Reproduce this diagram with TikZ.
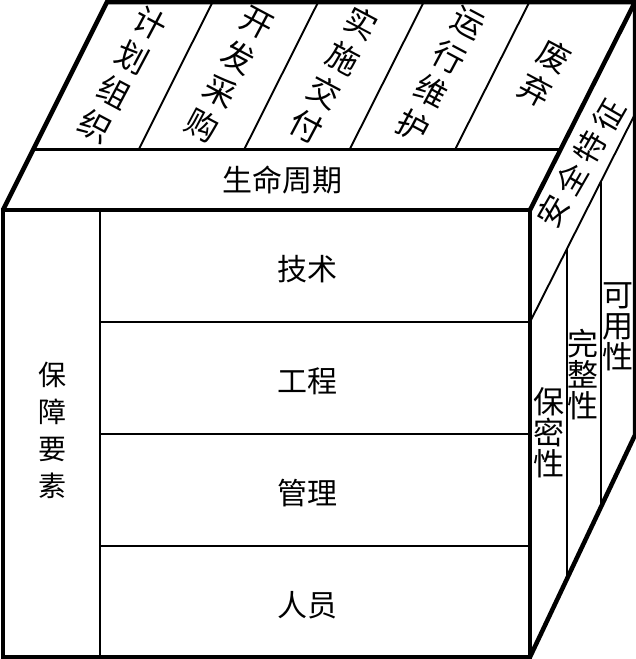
\documentclass[tikz,border=0pt]{standalone}
\usepackage{fontspec}
\newfontfamily\cjk{Noto Sans CJK SC}
\usetikzlibrary{calc}

\begin{document}
\begin{tikzpicture}[x=1pt, y=-1pt,
    outer/.style={line width=4.5pt},
    inner/.style={line width=1.9pt},
    word/.style={inner sep=0pt, font=\cjk\fontsize{30}{30}\selectfont},
    leftlabel/.style={inner sep=0pt, align=center, font=\cjk\fontsize{28}{37}\selectfont},
    toplabel/.style={inner sep=0pt, align=center, rotate=-28, font=\cjk\fontsize{32}{39}\selectfont},
    sidelabel/.style={inner sep=0pt, align=center, font=\cjk\fontsize{31}{31}\selectfont},
    bandlabel/.style={inner sep=0pt, rotate=60, font=\cjk\fontsize{31}{31}\selectfont}]
       \useasboundingbox (0,0) rectangle (636,659);

       % corners of the cube
       \coordinate (ftl) at (3,210);
       \coordinate (ftr) at (530,210);
       \coordinate (fbr) at (530,657);
       \coordinate (fbl) at (3,657);
       \coordinate (btl) at (107,2);
       \coordinate (btr) at (635,2);
       \coordinate (bbr) at (635,435);

       % top face: lifecycle band and phases
       \coordinate (ll) at ($(ftl)!0.293!(btl)$);
       \coordinate (lr) at ($(ftr)!0.293!(btr)$);
       \foreach \i in {1,...,4}
           \draw[inner] ($(ll)!\i/5!(lr)$) -- ($(btl)!\i/5!(btr)$);

       % front face: rows
       \draw[inner] (100,210) -- (100,657);
       \foreach \y in {322,434,546}
           \draw[inner] (100,\y) -- (530,\y);

       % right face: security band and columns
       \coordinate (sl) at (530,322);
       \coordinate (sr) at ($(sl)+(btr)-(ftr)$);
       \draw[inner] (sl) -- (sr);
       \foreach \f in {0.35,0.68}
           \draw[inner] ($(sl)!\f!(sr)$) -- ($(fbr)!\f!(bbr)$);

       % outline
       \draw[line width=3pt] (ll) -- (lr);
       \draw[outer] (ftl) -- (ftr) -- (fbr) -- (fbl) -- cycle;
       \draw[outer] (ftl) -- (btl) -- (btr) -- (ftr);
       \draw[outer] (btr) -- (bbr) -- (fbr);

       % labels
       \node[word] (life) at (282,180) {生命周期};
       \node[word] (tech) at (307,269) {技术};
       \node[word] (eng) at (307,381) {工程};
       \node[word] (mgmt) at (307,493) {管理};
       \node[word] (staff) at (307,605) {人员};
       \node[leftlabel] (guard) at (52,430) {保\\障\\要\\素};

       \node[toplabel] (plan) at (123,75) {计\\划\\组\\织};
       \node[toplabel] (dev) at (229,75) {开\\发\\采\\购};
       \node[toplabel] (impl) at (334,75) {实\\施\\交\\付};
       \node[toplabel] (ops) at (440,75) {运\\行\\维\\护};
       \node[toplabel] (drop) at (545,73) {废\\弃};

       \node[bandlabel] (secur) at (581,163) {安\hspace{6pt}全\hspace{6pt}特\hspace{6pt}征};
       \node[sidelabel] (conf) at (549,433) {保\\密\\性};
       \node[sidelabel] (integ) at (583,375) {完\\整\\性};
       \node[sidelabel] (avail) at (618,327) {可\\用\\性};
    \end{tikzpicture}
\end{document}
